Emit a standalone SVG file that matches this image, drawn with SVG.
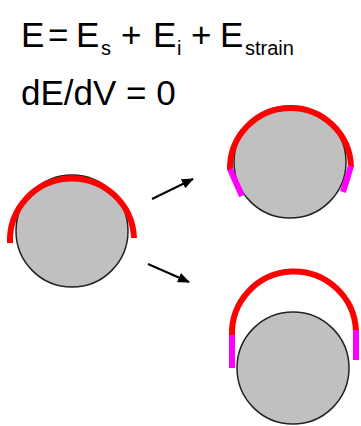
<svg xmlns="http://www.w3.org/2000/svg" width="361" height="426" viewBox="0 0 361 426">
  <style>
    .t { font-family: "Liberation Sans", Arial, sans-serif; font-size: 35px; fill: #000; }
    .sub { font-family: "Liberation Sans", Arial, sans-serif; font-size: 20px; fill: #000; }
    .ball { fill: #c0c0c0; stroke: #222; stroke-width: 1.5; }
    .red { fill: none; stroke: #ff0000; stroke-width: 6; }
    .mag { fill: none; stroke: #ff00ff; stroke-width: 6; }
    .arrow { stroke: #000; stroke-width: 2; fill: none; marker-end: url(#ah); }
  </style>
  <defs>
    <marker id="ah" markerUnits="userSpaceOnUse" markerWidth="12" markerHeight="10" refX="11" refY="5" orient="auto">
      <path d="M0,0 L12,5 L0,10 z" fill="#000"/>
    </marker>
  </defs>
  <rect width="361" height="426" fill="#fff"/>

  <g id="equation1">
    <text class="t" x="21" y="47">E</text>
    <text class="t" x="48" y="47">=</text>
    <text class="t" x="76" y="47">E</text>
    <text class="sub" x="101" y="55">s</text>
    <text class="t" x="121" y="47">+</text>
    <text class="t" x="153" y="47">E</text>
    <text class="sub" x="177" y="55">i</text>
    <text class="t" x="191" y="47">+</text>
    <text class="t" x="220" y="47">E</text>
    <text class="sub" x="245" y="55">strain</text>
  </g>
  <g id="equation2">
    <text class="t" x="21" y="105">dE/dV = 0</text>
  </g>

  <g id="initial">
    <circle class="ball" cx="72" cy="231" r="56"/>
    <path class="red" d="M10,243 A62,62 0 1 1 134,238"/>
  </g>

  <g id="outcome-top">
    <circle class="ball" cx="290" cy="162" r="56"/>
    <path class="red" d="M230,170 A60,60 0 1 1 351,167"/>
    <line class="mag" x1="230" y1="169" x2="242" y2="196"/>
    <line class="mag" x1="351" y1="166" x2="343" y2="192"/>
  </g>

  <g id="outcome-bottom">
    <circle class="ball" cx="293" cy="368" r="56"/>
    <path class="red" d="M232,336 A62,62 0 1 1 356,331"/>
    <line class="mag" x1="232" y1="335" x2="232" y2="368"/>
    <line class="mag" x1="356" y1="330" x2="356" y2="360"/>
  </g>

  <g id="connectors">
    <line class="arrow" x1="152" y1="199" x2="193" y2="179"/>
    <line class="arrow" x1="148" y1="264" x2="189" y2="282"/>
  </g>
</svg>
